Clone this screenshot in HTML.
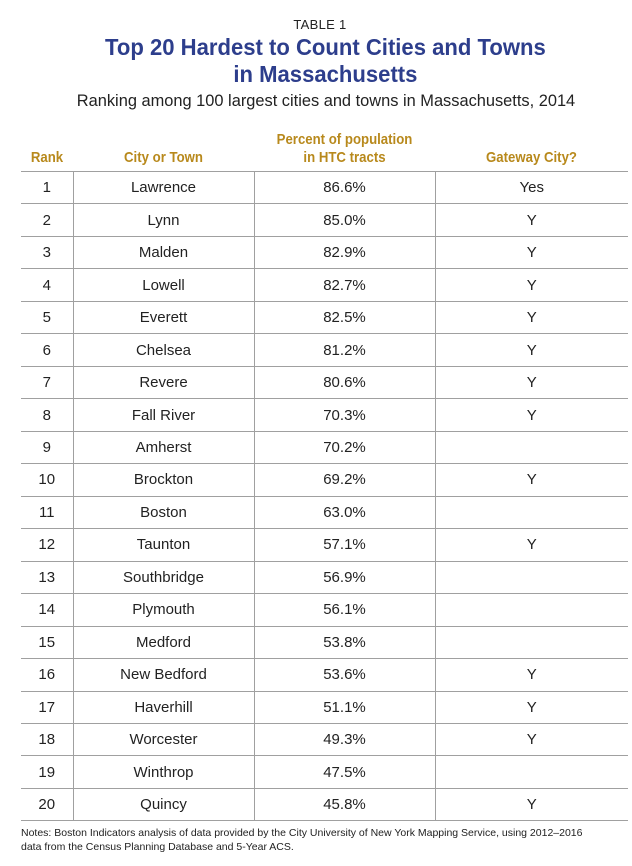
<!DOCTYPE html>
<html><head><meta charset="utf-8"><style>
body{margin:0;width:632px;height:866px;background:#fff;position:relative;font-family:"Liberation Sans",sans-serif;overflow:hidden}
.c{position:absolute;text-align:center}
.t1{top:17px;left:4px;width:632px;font-size:13px;color:#222;letter-spacing:0.3px}
.t2{top:34px;left:9px;width:632px;font-size:23px;font-weight:bold;color:#2d3e8c;line-height:27px;transform:scaleX(0.96);transform-origin:326px 0}
.t3{top:92px;left:10px;width:632px;font-size:16.4px;color:#222}
.h{color:#b8891c;font-weight:bold;font-size:15px;line-height:18px;transform:scaleX(0.88)}
table{position:absolute;left:21px;top:171px;border-collapse:collapse;width:607px}
td{height:31.47px;padding:0;text-align:center;font-size:15px;color:#222;border-top:1px solid #a0a0a0;border-bottom:1px solid #a0a0a0}
td+td{border-left:1px solid #a0a0a0}
.n{position:absolute;left:21px;top:826px;font-size:10.5px;color:#222;line-height:14px}
</style></head><body>
<div class="c t1">TABLE 1</div>
<div class="c t2">Top 20 Hardest to Count Cities and Towns<br>in Massachusetts</div>
<div class="c t3">Ranking among 100 largest cities and towns in Massachusetts, 2014</div>
<div class="c h" style="left:21px;width:52px;top:149px">Rank</div>
<div class="c h" style="left:73px;width:181px;top:149px">City or Town</div>
<div class="c h" style="left:254px;width:181px;top:131px">Percent of population<br>in HTC tracts</div>
<div class="c h" style="left:435px;width:193px;top:149px">Gateway City?</div>
<table>
<colgroup><col style="width:52px"><col style="width:181px"><col style="width:181px"><col style="width:193px"></colgroup>
<tr><td>1</td><td>Lawrence</td><td>86.6%</td><td>Yes</td></tr>
<tr><td>2</td><td>Lynn</td><td>85.0%</td><td>Y</td></tr>
<tr><td>3</td><td>Malden</td><td>82.9%</td><td>Y</td></tr>
<tr><td>4</td><td>Lowell</td><td>82.7%</td><td>Y</td></tr>
<tr><td>5</td><td>Everett</td><td>82.5%</td><td>Y</td></tr>
<tr><td>6</td><td>Chelsea</td><td>81.2%</td><td>Y</td></tr>
<tr><td>7</td><td>Revere</td><td>80.6%</td><td>Y</td></tr>
<tr><td>8</td><td>Fall River</td><td>70.3%</td><td>Y</td></tr>
<tr><td>9</td><td>Amherst</td><td>70.2%</td><td></td></tr>
<tr><td>10</td><td>Brockton</td><td>69.2%</td><td>Y</td></tr>
<tr><td>11</td><td>Boston</td><td>63.0%</td><td></td></tr>
<tr><td>12</td><td>Taunton</td><td>57.1%</td><td>Y</td></tr>
<tr><td>13</td><td>Southbridge</td><td>56.9%</td><td></td></tr>
<tr><td>14</td><td>Plymouth</td><td>56.1%</td><td></td></tr>
<tr><td>15</td><td>Medford</td><td>53.8%</td><td></td></tr>
<tr><td>16</td><td>New Bedford</td><td>53.6%</td><td>Y</td></tr>
<tr><td>17</td><td>Haverhill</td><td>51.1%</td><td>Y</td></tr>
<tr><td>18</td><td>Worcester</td><td>49.3%</td><td>Y</td></tr>
<tr><td>19</td><td>Winthrop</td><td>47.5%</td><td></td></tr>
<tr><td>20</td><td>Quincy</td><td>45.8%</td><td>Y</td></tr>
</table>
<div class="n">Notes: Boston Indicators analysis of data provided by the City University of New York Mapping Service, using 2012–2016<br>data from the Census Planning Database and 5-Year ACS.</div>
</body></html>
